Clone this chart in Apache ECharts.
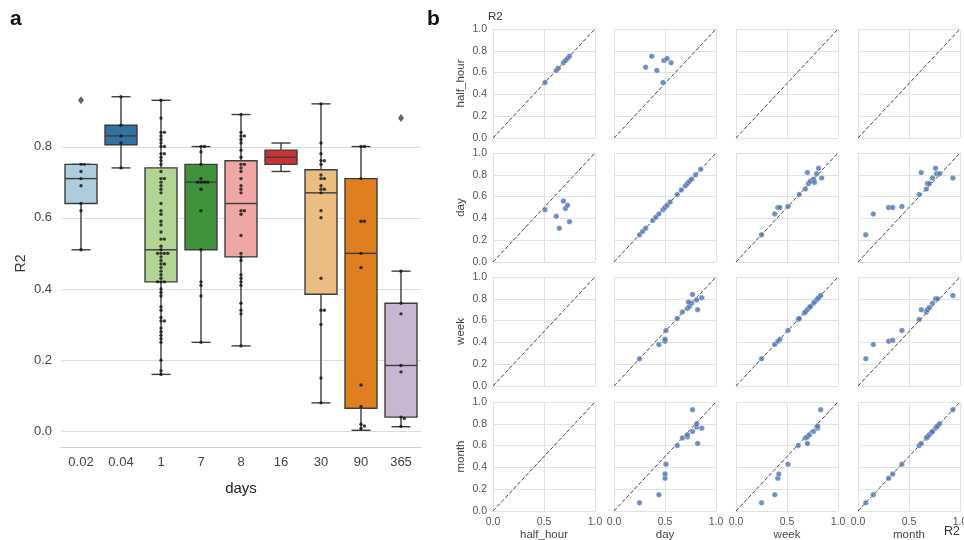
<!DOCTYPE html>
<html lang="en">
<head>
<meta charset="UTF-8" />
<title>R2 by resolution</title>
<script src="https://cdn.jsdelivr.net/npm/echarts@6/dist/echarts.min.js"></script>
<style>
  html, body { margin: 0; padding: 0; background: #fff; }
  #chart { width: 964px; height: 540px; }
</style>
</head>
<body>
<div id="chart"></div>
<script>
// ---- panel a: boxplots of R2 per time resolution ----
const days = ['0.02', '0.04', '1', '7', '8', '16', '30', '90', '365'];
const yTicksA = [0, 0.2, 0.4, 0.6, 0.8];
// [lower whisker, Q1, median, Q3, upper whisker]
const boxStats = [
  [0.51, 0.64, 0.71, 0.75, 0.75],
  [0.74, 0.805, 0.83, 0.86, 0.94],
  [0.16, 0.42, 0.51, 0.74, 0.93],
  [0.25, 0.51, 0.70, 0.75, 0.80],
  [0.24, 0.49, 0.64, 0.76, 0.89],
  [0.73, 0.75, 0.77, 0.79, 0.81],
  [0.08, 0.385, 0.67, 0.735, 0.92],
  [0.003, 0.065, 0.50, 0.71, 0.80],
  [0.013, 0.04, 0.185, 0.36, 0.45]
];
const outliers = [[0, 0.93], [8, 0.88]];
const boxColors = ['#aeccdb', '#3274a1', '#b3d495', '#40923b', '#efa6a5',
                   '#ca3334', '#ebbd81', '#df7f20', '#c9b7d2'];

const r2_002 = [0.75, 0.75, 0.73, 0.71, 0.69, 0.64, 0.62, 0.51];
const r2_004 = [0.94, 0.86, 0.83, 0.81, 0.74];
const r2_1 = [0.93, 0.88, 0.84, 0.84, 0.83, 0.82, 0.81, 0.80, 0.80, 0.78, 0.78, 0.77, 0.76, 0.75,
  0.73, 0.71, 0.71, 0.70, 0.69, 0.68, 0.67, 0.64, 0.62, 0.61, 0.59, 0.58, 0.56, 0.54, 0.54,
  0.52, 0.51, 0.50, 0.50, 0.50, 0.50, 0.49, 0.48, 0.47, 0.47, 0.46, 0.45, 0.44, 0.43, 0.42,
  0.42, 0.42, 0.40, 0.39, 0.38, 0.35, 0.34, 0.32, 0.31, 0.31, 0.29, 0.28, 0.27, 0.26, 0.25,
  0.20, 0.17, 0.16];
const r2_7 = [0.80, 0.80, 0.785, 0.75, 0.71, 0.70, 0.70, 0.70, 0.70, 0.68, 0.62, 0.51, 0.42, 0.41, 0.38, 0.25];
const r2_8 = [0.89, 0.84, 0.83, 0.83, 0.82, 0.81, 0.79, 0.77, 0.75, 0.75, 0.74, 0.73, 0.71, 0.69,
  0.68, 0.67, 0.62, 0.62, 0.61, 0.55, 0.50, 0.49, 0.48, 0.44, 0.43, 0.42, 0.41, 0.36, 0.34, 0.33, 0.24];
const r2_16 = [];
const r2_30 = [0.92, 0.81, 0.78, 0.76, 0.76, 0.75, 0.72, 0.71, 0.71, 0.69, 0.68, 0.68, 0.67, 0.62,
  0.60, 0.43, 0.34, 0.34, 0.30, 0.15, 0.08];
const r2_90 = [0.80, 0.80, 0.71, 0.59, 0.59, 0.50, 0.46, 0.13, 0.07, 0.02, 0.015, 0.008];
const r2_365 = [0.45, 0.36, 0.33, 0.185, 0.167, 0.04, 0.036, 0.014];
const stripValues = [r2_002, r2_004, r2_1, r2_7, r2_8, r2_16, r2_30, r2_90, r2_365];

// ---- panel b: pairwise R2 between resolutions, named rowVar_colVar as [x, y] ----
const pairNames = ['half_hour', 'day', 'week', 'month'];
const halfHour_halfHour = [[0.51, 0.51], [0.62, 0.62], [0.64, 0.64], [0.69, 0.69], [0.71, 0.71], [0.73, 0.73], [0.75, 0.75]];
const halfHour_day = [[0.31, 0.65], [0.37, 0.75], [0.42, 0.62], [0.48, 0.51], [0.49, 0.71], [0.52, 0.73], [0.56, 0.69]];
const day_day = [[0.25, 0.25], [0.28, 0.28], [0.31, 0.31], [0.38, 0.38], [0.41, 0.41], [0.44, 0.44],
  [0.48, 0.48], [0.50, 0.50], [0.52, 0.52], [0.55, 0.55], [0.62, 0.62], [0.66, 0.66], [0.70, 0.70],
  [0.72, 0.72], [0.74, 0.74], [0.76, 0.76], [0.80, 0.80], [0.85, 0.85]];
const day_week = [[0.25, 0.25], [0.38, 0.44], [0.41, 0.50], [0.43, 0.50], [0.51, 0.51], [0.62, 0.62],
  [0.68, 0.67], [0.71, 0.72], [0.73, 0.74], [0.70, 0.82], [0.76, 0.76], [0.77, 0.73], [0.79, 0.81],
  [0.81, 0.86], [0.84, 0.77]];
const day_month = [[0.076, 0.25], [0.15, 0.44], [0.30, 0.50], [0.34, 0.50], [0.43, 0.51], [0.60, 0.62],
  [0.62, 0.82], [0.67, 0.67], [0.68, 0.72], [0.70, 0.72], [0.73, 0.77], [0.76, 0.86], [0.77, 0.81],
  [0.80, 0.81], [0.93, 0.77]];
const week_week = [[0.25, 0.25], [0.38, 0.38], [0.41, 0.41], [0.43, 0.43], [0.51, 0.51], [0.61, 0.61],
  [0.62, 0.62], [0.67, 0.67], [0.68, 0.68], [0.70, 0.70], [0.72, 0.72], [0.73, 0.73], [0.76, 0.76],
  [0.77, 0.77], [0.79, 0.79], [0.80, 0.80], [0.81, 0.81], [0.83, 0.83]];
const week_month = [[0.076, 0.25], [0.15, 0.38], [0.30, 0.41], [0.34, 0.42], [0.43, 0.51], [0.60, 0.61],
  [0.62, 0.70], [0.67, 0.68], [0.68, 0.70], [0.70, 0.72], [0.73, 0.76], [0.76, 0.80], [0.78, 0.80],
  [0.93, 0.83]];
const month_month = [[0.076, 0.076], [0.15, 0.15], [0.30, 0.30], [0.34, 0.34], [0.43, 0.43], [0.60, 0.60],
  [0.62, 0.62], [0.67, 0.67], [0.68, 0.68], [0.70, 0.70], [0.72, 0.72], [0.73, 0.73], [0.76, 0.76],
  [0.77, 0.77], [0.78, 0.78], [0.80, 0.80], [0.93, 0.93]];

const flip = (pts) => pts.map((p) => [p[1], p[0]]);
const pairCells = [
  [halfHour_halfHour, halfHour_day, [], []],
  [flip(halfHour_day), day_day, day_week, day_month],
  [[], flip(day_week), week_week, week_month],
  [[], flip(day_month), flip(week_month), month_month]
];

// ---- layout ----
const FONT = 'Liberation Sans, Arial, sans-serif';
const yMinA = -0.044, yMaxA = 0.987;
const gridA = { left: 61, right: 543, top: 80, bottom: 93 };
const pxPerUnit = (540 - gridA.top - gridA.bottom) / (yMaxA - yMinA);

// simple beeswarm: shift dots sideways so they do not overlap
function swarm(vals) {
  const D = 3.4, placed = [];
  return vals.map((v) => {
    const y = v * pxPerUnit;
    let dx = 0;
    for (let k = 0; k < 20; k++) {
      dx = (k % 2 ? 1 : -1) * Math.ceil(k / 2) * D;
      if (!placed.some((p) => Math.hypot(p.dx - dx, p.y - y) < D)) break;
    }
    placed.push({ dx, y });
    return dx;
  });
}

const stripData = [];
stripValues.forEach((vals, i) => {
  const offs = swarm(vals);
  vals.forEach((v, j) => stripData.push({ value: [i, v], symbolOffset: [offs[j], 0] }));
});

const grids = [{ ...gridA, outerBoundsMode: 'none' }];
const xAxes = [{
  type: 'category', data: days, gridIndex: 0,
  axisTick: { show: false },
  axisLine: { onZero: false, lineStyle: { color: '#d0d0d0' } },
  axisLabel: { color: '#444', fontSize: 13, fontFamily: FONT, margin: 9 },
  name: 'days', nameLocation: 'middle', nameGap: 34,
  nameTextStyle: { color: '#222', fontSize: 15, fontFamily: FONT }
}];
const yAxes = [{
  type: 'value', gridIndex: 0, min: yMinA, max: yMaxA,
  splitLine: { show: false }, axisLine: { show: false }, axisTick: { show: false },
  axisLabel: { customValues: yTicksA, formatter: (v) => v.toFixed(1),
               color: '#444', fontSize: 13, fontFamily: FONT, margin: 9 },
  name: 'R2', nameLocation: 'middle', nameGap: 33, nameRotate: 90,
  nameTextStyle: { color: '#333', fontSize: 14, fontFamily: FONT }
}];

const series = [
  {
    // horizontal grid lines of panel a, drawn behind the boxes
    type: 'custom', xAxisIndex: 0, yAxisIndex: 0, z: 0, silent: true,
    data: yTicksA.map((v) => [0, v]),
    encode: { x: 0, y: 1 },
    renderItem: (params, api) => {
      const cs = params.coordSys;
      const y = Math.round(api.coord([0, api.value(1)])[1]) + 0.5;
      return {
        type: 'line', shape: { x1: cs.x, y1: y, x2: cs.x + cs.width, y2: y },
        style: { stroke: '#dcdcdc', lineWidth: 1 }
      };
    }
  },
  {
    type: 'custom', xAxisIndex: 0, yAxisIndex: 0, z: 3,
    data: boxStats.map((s, i) => [i, ...s]),
    encode: { x: 0, y: [1, 2, 3, 4, 5] },
    renderItem: (params, api) => {
      const i = api.value(0);
      const x = api.coord([i, 0])[0];
      const y = (k) => api.coord([i, api.value(k)])[1];
      const half = 16, cap = 9.5, stroke = '#3d3d3d', lw = 1.4;
      const line = (x1, y1, x2, y2) => ({
        type: 'line', shape: { x1, y1, x2, y2 }, style: { stroke, lineWidth: lw }
      });
      return {
        type: 'group',
        children: [
          line(x, y(1), x, y(2)),
          line(x, y(4), x, y(5)),
          line(x - cap, y(1), x + cap, y(1)),
          line(x - cap, y(5), x + cap, y(5)),
          {
            type: 'rect',
            shape: { x: x - half, y: y(4), width: half * 2, height: y(2) - y(4) },
            style: { fill: boxColors[i], stroke, lineWidth: lw }
          },
          line(x - half, y(3), x + half, y(3))
        ]
      };
    }
  },
  {
    type: 'scatter', xAxisIndex: 0, yAxisIndex: 0, z: 4,
    symbolSize: 3.4, itemStyle: { color: '#111' }, data: stripData
  },
  {
    type: 'scatter', xAxisIndex: 0, yAxisIndex: 0, z: 4,
    symbol: 'diamond', symbolSize: [6, 8], itemStyle: { color: '#3d3d3d' }, data: outliers
  }
];

// ---- panel b grids ----
const colLeft = [493, 614, 736, 858];
const rowTop = [29, 153, 277, 402];
const cellW = 102, cellH = 109;

pairCells.forEach((row, r) => {
  row.forEach((pts, c) => {
    const gi = grids.length;
    grids.push({ left: colLeft[c], top: rowTop[r], width: cellW, height: cellH, outerBoundsMode: 'none' });
    xAxes.push({
      type: 'value', gridIndex: gi, min: 0, max: 1, interval: 0.5,
      splitLine: { lineStyle: { color: '#e2e2e2' } },
      axisLine: { show: false }, axisTick: { show: false },
      axisLabel: { show: r === 3, formatter: (v) => v.toFixed(1), color: '#555', fontSize: 10.5, fontFamily: FONT, margin: 6 },
      name: r === 3 ? pairNames[c] : '', nameLocation: 'middle', nameGap: 17,
      nameTextStyle: { color: '#444', fontSize: 11.5, fontFamily: FONT }
    });
    yAxes.push({
      type: 'value', gridIndex: gi, min: 0, max: 1, interval: 0.2,
      splitLine: { lineStyle: { color: '#e2e2e2' } },
      axisLine: { show: false }, axisTick: { show: false },
      axisLabel: { show: c === 0, formatter: (v) => v.toFixed(1), color: '#555', fontSize: 10.5, fontFamily: FONT, margin: 6 },
      name: c === 0 ? pairNames[r] : '', nameLocation: 'middle', nameGap: 26, nameRotate: 90,
      nameTextStyle: { color: '#444', fontSize: 11.5, fontFamily: FONT }
    });
    series.push({
      type: 'line', xAxisIndex: gi, yAxisIndex: gi, data: [[0, 0], [1, 1]],
      symbol: 'none', silent: true, z: 2,
      lineStyle: { color: '#444', width: 1, type: [4, 2] }
    });
    series.push({
      type: 'scatter', xAxisIndex: gi, yAxisIndex: gi, data: pts, z: 3,
      symbolSize: 5.5, itemStyle: { color: '#4c72b0', borderColor: '#fff', borderWidth: 0.4 }
    });
  });
});

const chart = echarts.init(document.getElementById('chart'));
chart.setOption({
  animation: false,
  backgroundColor: '#fff',
  grid: grids,
  xAxis: xAxes,
  yAxis: yAxes,
  series: series,
  graphic: [
    { type: 'text', left: 10, top: 9, style: { text: 'a', font: 'bold 21px ' + FONT, fill: '#111' } },
    { type: 'text', left: 427, top: 9, style: { text: 'b', font: 'bold 21px ' + FONT, fill: '#111' } },
    { type: 'text', left: 488, top: 11, style: { text: 'R2', font: '11.5px ' + FONT, fill: '#333' } },
    { type: 'text', left: 944, top: 525, style: { text: 'R2', font: '12.5px ' + FONT, fill: '#333' } }
  ]
});
</script>
</body>
</html>
